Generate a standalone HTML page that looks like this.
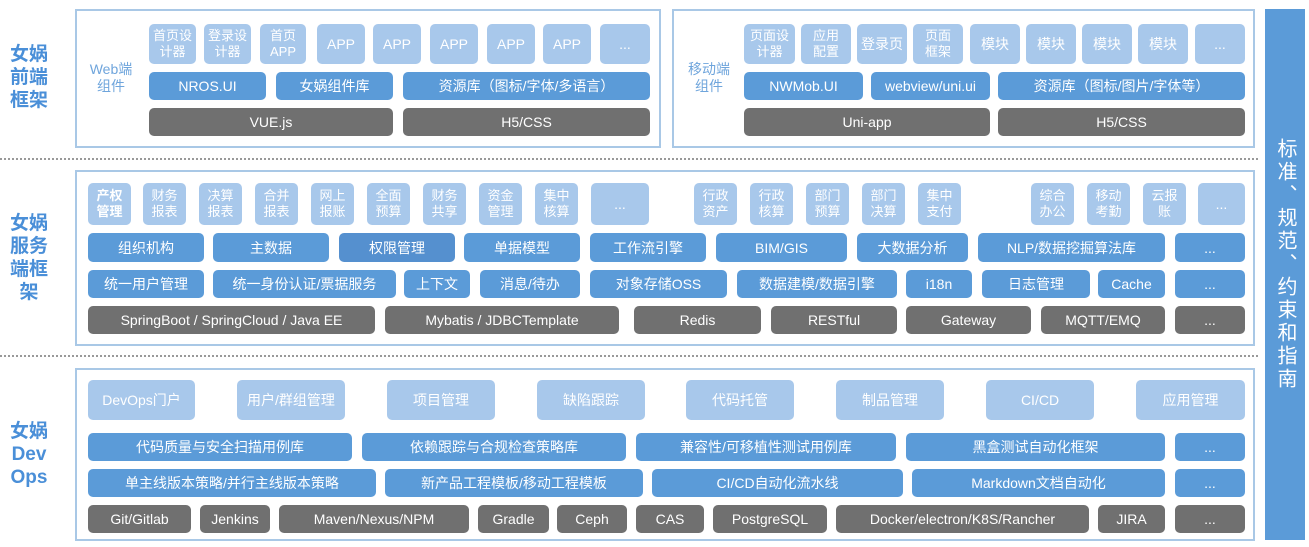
<!DOCTYPE html>
<html><head><meta charset="utf-8">
<style>
*{margin:0;padding:0;box-sizing:border-box}
body{width:1309px;height:547px;background:#fff;position:relative;overflow:hidden;font-family:"Liberation Sans","Noto Sans CJK SC",sans-serif}
.p{position:absolute;border:2px solid #a9c8e6;background:#fff}
.b{position:absolute;display:flex;align-items:center;justify-content:center;text-align:center;border-radius:5px;color:#fff;font-size:14px;line-height:16px;white-space:nowrap}
.l{background:#a8c8eb}
.m{background:#5b9bd8}
.g{background:#707070}
.t{font-size:13px;line-height:16px;white-space:normal}
.lab{position:absolute;color:#4a8fd8;font-weight:bold;font-size:19px;line-height:23px;text-align:center}
.sl{position:absolute;color:#6fa5dc;font-size:14px;line-height:17px;text-align:center}
.d{position:absolute;left:0;width:1258px;border-top:2px dotted #999}
</style></head><body>
<div class="lab" style="left:8px;top:43px;width:42px">女娲<br>前端<br>框架</div>
<div class="lab" style="left:8px;top:212px;width:42px">女娲<br>服务<br>端框<br>架</div>
<div class="lab" style="left:6px;top:420px;width:46px">女娲<br>Dev<br>Ops</div>

<div class="p" style="left:75px;top:9px;width:586px;height:139px"></div>
<div class="p" style="left:672px;top:9px;width:583px;height:139px"></div>
<div class="d" style="top:158px"></div>
<div class="p" style="left:75px;top:170px;width:1180px;height:176px"></div>
<div class="d" style="top:355px"></div>
<div class="p" style="left:75px;top:368px;width:1180px;height:173px"></div>

<div class="sl" style="left:82px;top:61px;width:58px">Web端<br>组件</div>
<div class="b l t" style="left:149px;top:24px;width:47px;height:40px">首页设<br>计器</div>
<div class="b l t" style="left:204px;top:24px;width:47px;height:40px">登录设<br>计器</div>
<div class="b l t" style="left:260px;top:24px;width:46px;height:40px">首页<br>APP</div>
<div class="b l" style="left:317px;top:24px;width:48px;height:40px">APP</div>
<div class="b l" style="left:373px;top:24px;width:48px;height:40px">APP</div>
<div class="b l" style="left:430px;top:24px;width:48px;height:40px">APP</div>
<div class="b l" style="left:487px;top:24px;width:48px;height:40px">APP</div>
<div class="b l" style="left:543px;top:24px;width:48px;height:40px">APP</div>
<div class="b l" style="left:600px;top:24px;width:50px;height:40px">...</div>
<div class="b m" style="left:149px;top:72px;width:117px;height:28px">NROS.UI</div>
<div class="b m" style="left:276px;top:72px;width:117px;height:28px">女娲组件库</div>
<div class="b m" style="left:403px;top:72px;width:247px;height:28px">资源库（图标/字体/多语言）</div>
<div class="b g" style="left:149px;top:108px;width:244px;height:28px">VUE.js</div>
<div class="b g" style="left:403px;top:108px;width:247px;height:28px">H5/CSS</div>

<div class="sl" style="left:680px;top:61px;width:58px">移动端<br>组件</div>
<div class="b l t" style="left:744px;top:24px;width:51px;height:40px">页面设<br>计器</div>
<div class="b l t" style="left:801px;top:24px;width:50px;height:40px">应用<br>配置</div>
<div class="b l" style="left:857px;top:24px;width:50px;height:40px">登录页</div>
<div class="b l t" style="left:913px;top:24px;width:50px;height:40px">页面<br>框架</div>
<div class="b l" style="left:970px;top:24px;width:50px;height:40px">模块</div>
<div class="b l" style="left:1026px;top:24px;width:50px;height:40px">模块</div>
<div class="b l" style="left:1082px;top:24px;width:50px;height:40px">模块</div>
<div class="b l" style="left:1138px;top:24px;width:50px;height:40px">模块</div>
<div class="b l" style="left:1195px;top:24px;width:50px;height:40px">...</div>
<div class="b m" style="left:744px;top:72px;width:119px;height:28px">NWMob.UI</div>
<div class="b m" style="left:871px;top:72px;width:119px;height:28px">webview/uni.ui</div>
<div class="b m" style="left:998px;top:72px;width:247px;height:28px">资源库（图标/图片/字体等）</div>
<div class="b g" style="left:744px;top:108px;width:246px;height:28px">Uni-app</div>
<div class="b g" style="left:998px;top:108px;width:247px;height:28px">H5/CSS</div>

<div class="b l t" style="left:88px;top:183px;width:43px;height:42px;font-weight:bold">产权<br>管理</div>
<div class="b l t" style="left:143px;top:183px;width:43px;height:42px">财务<br>报表</div>
<div class="b l t" style="left:199px;top:183px;width:43px;height:42px">决算<br>报表</div>
<div class="b l t" style="left:255px;top:183px;width:43px;height:42px">合并<br>报表</div>
<div class="b l t" style="left:311px;top:183px;width:43px;height:42px">网上<br>报账</div>
<div class="b l t" style="left:367px;top:183px;width:43px;height:42px">全面<br>预算</div>
<div class="b l t" style="left:423px;top:183px;width:43px;height:42px">财务<br>共享</div>
<div class="b l t" style="left:479px;top:183px;width:43px;height:42px">资金<br>管理</div>
<div class="b l t" style="left:535px;top:183px;width:43px;height:42px">集中<br>核算</div>
<div class="b l" style="left:591px;top:183px;width:58px;height:42px">...</div>
<div class="b l t" style="left:694px;top:183px;width:43px;height:42px">行政<br>资产</div>
<div class="b l t" style="left:750px;top:183px;width:43px;height:42px">行政<br>核算</div>
<div class="b l t" style="left:806px;top:183px;width:43px;height:42px">部门<br>预算</div>
<div class="b l t" style="left:862px;top:183px;width:43px;height:42px">部门<br>决算</div>
<div class="b l t" style="left:918px;top:183px;width:43px;height:42px">集中<br>支付</div>
<div class="b l t" style="left:1031px;top:183px;width:43px;height:42px">综合<br>办公</div>
<div class="b l t" style="left:1087px;top:183px;width:43px;height:42px">移动<br>考勤</div>
<div class="b l t" style="left:1143px;top:183px;width:43px;height:42px">云报<br>账</div>
<div class="b l" style="left:1198px;top:183px;width:47px;height:42px">...</div>

<div class="b m" style="left:88px;top:233px;width:116px;height:29px">组织机构</div>
<div class="b m" style="left:213px;top:233px;width:116px;height:29px">主数据</div>
<div class="b m" style="left:339px;top:233px;width:116px;height:29px;background:#5590cf">权限管理</div>
<div class="b m" style="left:464px;top:233px;width:116px;height:29px">单据模型</div>
<div class="b m" style="left:590px;top:233px;width:116px;height:29px">工作流引擎</div>
<div class="b m" style="left:716px;top:233px;width:131px;height:29px">BIM/GIS</div>
<div class="b m" style="left:857px;top:233px;width:111px;height:29px">大数据分析</div>
<div class="b m" style="left:978px;top:233px;width:187px;height:29px">NLP/数据挖掘算法库</div>
<div class="b m" style="left:1175px;top:233px;width:70px;height:29px">...</div>

<div class="b m" style="left:88px;top:270px;width:116px;height:28px">统一用户管理</div>
<div class="b m" style="left:213px;top:270px;width:183px;height:28px">统一身份认证/票据服务</div>
<div class="b m" style="left:404px;top:270px;width:66px;height:28px">上下文</div>
<div class="b m" style="left:480px;top:270px;width:100px;height:28px">消息/待办</div>
<div class="b m" style="left:590px;top:270px;width:137px;height:28px">对象存储OSS</div>
<div class="b m" style="left:737px;top:270px;width:160px;height:28px">数据建模/数据引擎</div>
<div class="b m" style="left:906px;top:270px;width:66px;height:28px">i18n</div>
<div class="b m" style="left:982px;top:270px;width:108px;height:28px">日志管理</div>
<div class="b m" style="left:1098px;top:270px;width:67px;height:28px">Cache</div>
<div class="b m" style="left:1175px;top:270px;width:70px;height:28px">...</div>

<div class="b g" style="left:88px;top:306px;width:287px;height:28px">SpringBoot / SpringCloud / Java EE</div>
<div class="b g" style="left:385px;top:306px;width:234px;height:28px">Mybatis / JDBCTemplate</div>
<div class="b g" style="left:634px;top:306px;width:127px;height:28px">Redis</div>
<div class="b g" style="left:771px;top:306px;width:126px;height:28px">RESTful</div>
<div class="b g" style="left:906px;top:306px;width:125px;height:28px">Gateway</div>
<div class="b g" style="left:1041px;top:306px;width:124px;height:28px">MQTT/EMQ</div>
<div class="b g" style="left:1175px;top:306px;width:70px;height:28px">...</div>

<div class="b l" style="left:88px;top:380px;width:107px;height:40px">DevOps门户</div>
<div class="b l" style="left:237px;top:380px;width:108px;height:40px">用户/群组管理</div>
<div class="b l" style="left:387px;top:380px;width:108px;height:40px">项目管理</div>
<div class="b l" style="left:537px;top:380px;width:108px;height:40px">缺陷跟踪</div>
<div class="b l" style="left:686px;top:380px;width:108px;height:40px">代码托管</div>
<div class="b l" style="left:836px;top:380px;width:108px;height:40px">制品管理</div>
<div class="b l" style="left:986px;top:380px;width:108px;height:40px">CI/CD</div>
<div class="b l" style="left:1136px;top:380px;width:109px;height:40px">应用管理</div>

<div class="b m" style="left:88px;top:433px;width:264px;height:28px">代码质量与安全扫描用例库</div>
<div class="b m" style="left:362px;top:433px;width:264px;height:28px">依赖跟踪与合规检查策略库</div>
<div class="b m" style="left:636px;top:433px;width:260px;height:28px">兼容性/可移植性测试用例库</div>
<div class="b m" style="left:906px;top:433px;width:259px;height:28px">黑盒测试自动化框架</div>
<div class="b m" style="left:1175px;top:433px;width:70px;height:28px">...</div>

<div class="b m" style="left:88px;top:469px;width:288px;height:28px">单主线版本策略/并行主线版本策略</div>
<div class="b m" style="left:385px;top:469px;width:258px;height:28px">新产品工程模板/移动工程模板</div>
<div class="b m" style="left:652px;top:469px;width:251px;height:28px">CI/CD自动化流水线</div>
<div class="b m" style="left:912px;top:469px;width:253px;height:28px">Markdown文档自动化</div>
<div class="b m" style="left:1175px;top:469px;width:70px;height:28px">...</div>

<div class="b g" style="left:88px;top:505px;width:103px;height:28px">Git/Gitlab</div>
<div class="b g" style="left:200px;top:505px;width:70px;height:28px">Jenkins</div>
<div class="b g" style="left:279px;top:505px;width:190px;height:28px">Maven/Nexus/NPM</div>
<div class="b g" style="left:478px;top:505px;width:71px;height:28px">Gradle</div>
<div class="b g" style="left:557px;top:505px;width:70px;height:28px">Ceph</div>
<div class="b g" style="left:636px;top:505px;width:68px;height:28px">CAS</div>
<div class="b g" style="left:713px;top:505px;width:114px;height:28px">PostgreSQL</div>
<div class="b g" style="left:836px;top:505px;width:253px;height:28px">Docker/electron/K8S/Rancher</div>
<div class="b g" style="left:1098px;top:505px;width:67px;height:28px">JIRA</div>
<div class="b g" style="left:1175px;top:505px;width:70px;height:28px">...</div>

<div style="position:absolute;left:1265px;top:9px;width:40px;height:531px;background:#5b9bd8;color:#fff;display:flex;align-items:center;justify-content:center;padding-bottom:20px"><div style="writing-mode:vertical-rl;font-size:20px;letter-spacing:3px;line-height:40px">标准、规范、约束和指南</div></div>
</body></html>
